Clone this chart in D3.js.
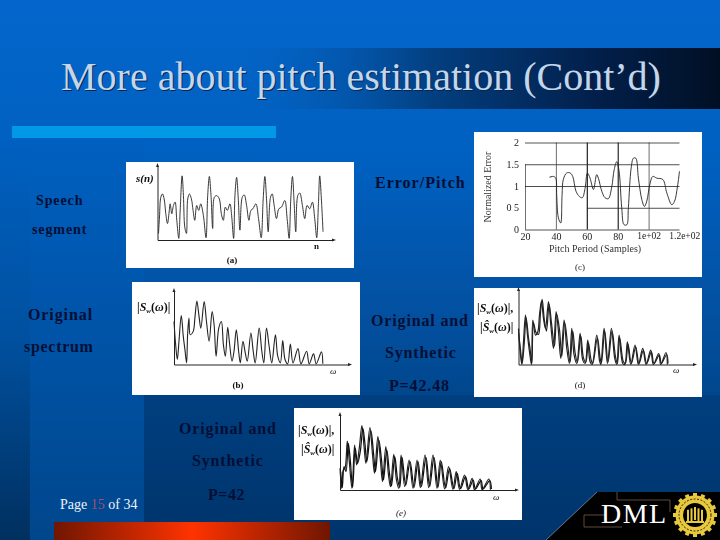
<!DOCTYPE html>
<html>
<head>
<meta charset="utf-8">
<script src="https://cdn.jsdelivr.net/npm/d3@7"></script>
<style>
  html, body { margin: 0; padding: 0; background: #003366; }
  svg { display: block; }
  text { font-family: "Liberation Serif", serif; }
</style>
</head>
<body>
<svg id="slide" width="720" height="540"></svg>
<script>
// (a) speech segment
const speechN = [3,6,10,15,20,25,30,35,38,43,48,53,58,64,68,74,78,82,87,91,96,102,107,112,118,124,130,138,146,151,156,161,166,171,178,186,192,198,204,210,218,223,229,233,238,243,248,255,261,268,275,281,287,296,304,312,318,323,328,333,340,345,351,358,365,373,383,390,396,401,406,411,416,422,428,436,443,450,458,466,473,479,484,488,493,498];
const speechV = [20,70,130,140,125,80,50,85,110,80,105,115,60,5,85,195,135,40,20,125,140,125,90,60,105,90,110,75,7,135,193,135,35,130,135,125,80,60,100,90,110,75,5,135,190,125,30,130,137,105,60,90,95,110,65,7,125,193,125,25,130,140,105,65,95,100,120,65,5,125,193,115,25,135,143,105,65,105,95,115,65,7,105,195,125,25];

// (b) original spectrum
const specN = [0,5,10,15,22,28,33,38,41,45,49,58,63,69,75,81,91,98,106,115,121,127,135,143,149,155,162,168,175,181,188,195,200,208,215,221,232,239,245,257,265,271,279,287,295,306,313,321,328,335,343,351,359,374,383,400,408,421,429,445,449];
const specV = [130,60,15,70,148,85,45,5,90,140,90,100,140,192,150,110,190,130,70,160,120,25,110,130,60,25,112,60,10,40,105,40,5,70,35,10,95,40,5,110,40,5,110,55,5,90,25,5,72,15,2,62,5,48,2,40,2,32,2,38,2];

// (c) normalized error against pitch period
const pitchPeriod = [35.8,38.4,39.9,40.5,41.6,43.1,44,44.8,47,49.2,50.9,53,55.2,57.1,58.9,60.4,62.1,64.3,66.4,67.5,69.7,71.8,74,76.2,77.7,79.4,80.9,82.6,84.1,85.9,86.9,88.7,90.2,91.7,93.4,95.6,97.3,98.8,101,102.7,105.3,109.2,111.8,115,116.8,118.7,120];
const pitchError = [1.2,1.22,1.18,0.8,0.27,0.15,0.8,1.15,1.3,1.3,1.22,0.88,0.76,0.73,0.95,1.3,1.18,0.92,1.26,1.18,0.88,0.73,0.71,0.99,1.37,1.56,1.34,0.5,0.11,0.11,0.5,1.41,1.64,1.64,1.18,0.69,0.53,0.65,1.07,1.22,1.18,1.15,0.84,0.57,0.65,0.99,1.34];
const pitchTicks = [20,40,60,80,100,120];
const pitchTickLabels = ['20','40','60','80','1e+02','1.2e+02'];
const errorTicks = [0,0.5,1,1.5,2];
const errorTickLabels = ['0','0 5','1','1.5','2'];

// (d) original and synthetic, P=42.48
const origDN = [0,5,10,15,21,27,33,39,43,51,58,63,69,75,81,90,97,105,113,120,127,137,145,153,160,167,175,185,193,200,208,215,221,235,243,247,257,267,279,289,295,302,313,319,327,337,350,360,373,383,397,405,421,427,443,447];
const origDV = [108,38,0,68,148,88,38,0,133,88,98,148,190,138,108,188,118,48,158,98,18,133,48,3,108,28,3,93,13,3,73,8,0,88,13,0,108,3,108,18,0,88,3,0,68,0,58,0,48,0,43,0,33,0,36,0];
const synthDN = [0,6,11,17,23,30,35,40,45,53,60,66,71,78,84,92,99,108,115,123,130,139,148,155,163,170,177,187,195,202,210,218,223,237,245,249,259,269,281,291,297,304,315,321,329,339,352,362,375,385,399,407,423,429,445,449];
const synthDV = [95,45,4,60,140,80,45,3,125,95,90,155,195,130,100,180,125,55,150,105,25,125,55,8,100,35,6,85,20,6,65,14,3,80,20,4,100,8,100,25,3,80,8,3,60,3,52,3,42,3,38,3,28,3,30,3];

// (e) original and synthetic, P=42
const origEN = [0,5,10,15,22,28,36,44,50,58,66,72,78,90,98,104,114,122,128,138,146,152,162,170,177,184,195,208,220,232,242,256,267,280,292,302,315,327,340,350,360,375,385,398,405,422,428,448,453];
const origEV = [65,5,60,65,147,85,5,135,75,125,193,135,80,187,105,50,160,85,25,130,45,10,107,30,5,105,10,90,5,90,7,105,7,105,5,90,3,70,2,55,2,45,1,35,1,33,1,33,1];
const synthEN = [2,7,12,18,25,31,38,46,53,61,69,75,81,93,101,107,117,125,131,141,149,155,165,173,180,187,198,211,223,235,245,259,270,283,295,305,318,330,343,353,363,378,388,401,408,425,431,451,456];
const synthEV = [55,8,70,55,140,90,8,125,80,115,185,140,85,178,110,55,150,90,30,120,50,12,100,35,8,98,14,85,8,85,10,98,10,98,8,85,6,65,4,50,4,40,3,30,3,28,3,28,3];

const svg = d3.select('#slide');
const defs = svg.append('defs');

function gradient(id, x2, y2, stops) {
    const g = defs.append('linearGradient').attr('id', id)
        .attr('x1', 0).attr('y1', 0).attr('x2', x2).attr('y2', y2);
    stops.forEach(s => g.append('stop').attr('offset', s[0]).attr('stop-color', s[1])
        .attr('stop-opacity', s[2] === undefined ? 1 : s[2]));
}
gradient('bgV', 0, 1, [[0, '#0466cc'], [0.3, '#0060c0'], [0.6, '#034f9e'], [0.74, '#00468c'], [1, '#00386f']]);
gradient('stripL', 0, 1, [[0, '#0060c0'], [0.5, '#00509f'], [1, '#00305f']]);
gradient('stripM', 0, 1, [[0, '#0060c0'], [1, '#00468c']]);
gradient('stripB', 0, 1, [[0, '#003f80'], [1, '#00346b']]);
gradient('band', 1, 0, [[0, '#0462c0', 0], [0.33, '#0462c0', 0.15], [0.6, '#033f80', 1], [0.82, '#02204c', 1], [1, '#010f24', 1]]);
gradient('redBar', 1, 0, [[0, '#701600'], [0.5, '#ff3300'], [1, '#701600']]);
defs.append('filter').attr('id', 'soft').append('feGaussianBlur').attr('stdDeviation', 0.35);

// background
svg.append('rect').attr('width', 720).attr('height', 540).attr('fill', 'url(#bgV)');
svg.append('rect').attr('y', 140).attr('width', 30).attr('height', 400).attr('fill', 'url(#stripL)');
svg.append('rect').attr('x', 30).attr('y', 140).attr('width', 114).attr('height', 400).attr('fill', 'url(#stripM)');
svg.append('rect').attr('x', 144).attr('y', 395).attr('width', 576).attr('height', 145).attr('fill', 'url(#stripB)');
svg.append('rect').attr('y', 48).attr('width', 720).attr('height', 61).attr('fill', 'url(#band)');
svg.append('rect').attr('x', 12).attr('y', 126).attr('width', 264).attr('height', 12).attr('fill', '#0099e6');
svg.append('rect').attr('x', 54).attr('y', 522).attr('width', 276).attr('height', 18).attr('fill', 'url(#redBar)');

// title
svg.append('text').attr('x', 62).attr('y', 91).attr('font-size', 40).attr('fill', '#04264e')
    .text('More about pitch estimation (Cont’d)');
svg.append('text').attr('x', 61).attr('y', 90).attr('font-size', 40).attr('fill', '#c4d6ea')
    .text('More about pitch estimation (Cont’d)');

function panel(x, y, w, h) {
    svg.append('rect').attr('x', x).attr('y', y).attr('width', w).attr('height', h).attr('fill', '#fff');
    return svg.append('g').attr('filter', 'url(#soft)');
}

function label(g, txt, x, y, size, opts) {
    opts = opts || {};
    return g.append('text').attr('x', x).attr('y', y).attr('font-size', size)
        .attr('fill', opts.fill || '#111')
        .attr('font-weight', opts.bold ? 'bold' : null)
        .attr('font-style', opts.italic ? 'italic' : null)
        .attr('text-anchor', opts.anchor || null)
        .attr('letter-spacing', opts.spacing || null)
        .text(txt);
}

function mag(g, head, x, y, comma) {
    const t = g.append('text').attr('x', x).attr('y', y).attr('font-size', 12)
        .attr('fill', '#111').attr('font-weight', 'bold');
    t.append('tspan').text('|');
    t.append('tspan').attr('font-style', 'italic').text(head);
    t.append('tspan').attr('font-size', 7).attr('dy', 2).attr('font-style', 'italic').text('w');
    t.append('tspan').attr('dy', -2).text('(');
    t.append('tspan').attr('font-style', 'italic').text('ω');
    t.append('tspan').text(comma ? ')|,' : ')|');
}

// waveform panels share this: two bare axes with arrow heads and one or more traces
function trace(g, box, xMax, yMax, series, width, curve) {
    const x = d3.scaleLinear().domain([0, xMax]).range([box.x0, box.x1]);
    const y = d3.scaleLinear().domain([0, yMax]).range([box.y0, box.y1]);
    const line = d3.line().x(d => x(d[0])).y(d => y(d[1])).curve(curve || d3.curveLinear);
    series.forEach(s => {
        g.append('path').datum(d3.zip(s[0], s[1]))
            .attr('fill', 'none').attr('stroke', s[2] || '#111')
            .attr('stroke-width', width).attr('stroke-linejoin', 'round')
            .attr('d', line);
    });
    const xAxis = g.append('g').attr('transform', 'translate(0,' + box.y0 + ')')
        .call(d3.axisBottom(x).tickValues([]).tickSizeOuter(0));
    const yAxis = g.append('g').attr('transform', 'translate(' + box.x0 + ',0)')
        .call(d3.axisLeft(y).tickValues([]).tickSizeOuter(0));
    xAxis.select('.domain').attr('stroke', '#222').attr('stroke-width', 1);
    yAxis.select('.domain').attr('stroke', '#222').attr('stroke-width', 1);
    g.append('path').attr('fill', '#222')
        .attr('d', d3.line()([[box.x1 + 3, box.y0], [box.x1 - 1, box.y0 - 1.5], [box.x1 - 1, box.y0 + 1.5]]));
    g.append('path').attr('fill', '#222')
        .attr('d', d3.line()([[box.x0, box.y1 - 3], [box.x0 - 1.5, box.y1 + 1], [box.x0 + 1.5, box.y1 + 1]]));
}

// (a)
const pa = panel(126, 162, 228, 106);
trace(pa, { x0: 157.5, x1: 333, y0: 240, y1: 166 }, 528, 225, [[speechN, speechV, '#222']], 0.9, d3.curveCatmullRom);
label(pa, 's(n)', 136, 182, 11, { bold: true, italic: true });
label(pa, 'n', 314, 249, 9, { bold: true });
label(pa, '(a)', 232, 263, 9, { anchor: 'middle', bold: true });

// (b)
const pb = panel(132, 282, 228, 113);
trace(pb, { x0: 174, x1: 349, y0: 364.5, y1: 291 }, 528, 222, [[specN, specV, '#222']], 1.1, d3.curveCatmullRom);
mag(pb, 'S', 137, 311);
label(pb, 'ω', 330, 374, 9, { italic: true });
label(pb, '(b)', 238, 388, 9, { anchor: 'middle', bold: true });

// (c) gets real axes and a grid
const pc = panel(474, 132, 228, 145);
const xc = d3.scaleLinear().domain([20, 120]).range([525, 679.5]);
const yc = d3.scaleLinear().domain([0, 2]).range([229.5, 142.5]);
const gridX = pc.append('g').attr('transform', 'translate(0,229.5)')
    .call(d3.axisBottom(xc).tickValues(pitchTicks).tickSize(-87).tickFormat((d, i) => pitchTickLabels[i]));
const gridY = pc.append('g').attr('transform', 'translate(525,0)')
    .call(d3.axisLeft(yc).tickValues(errorTicks).tickSize(-154.5).tickPadding(6).tickFormat((d, i) => errorTickLabels[i]));
gridX.select('.domain').remove();
gridY.select('.domain').remove();
gridX.selectAll('line').attr('stroke', (d) => (d === 60 || d === 80) ? '#111' : '#333')
    .attr('stroke-width', (d) => (d === 60 || d === 80) ? 1.1 : 0.7);
gridY.selectAll('line').attr('stroke', '#222').attr('stroke-width', 0.8);
gridX.selectAll('line').filter(d => d === 20).attr('y2', yc(1.5) - 229.5);
gridX.selectAll('line').filter(d => d === 120).remove();
gridY.selectAll('line').filter(d => d === 0.5).attr('x1', xc(60) - 525);
gridX.selectAll('text').attr('font-size', 10).attr('font-family', '"Liberation Serif", serif').attr('fill', '#222');
gridY.selectAll('text').attr('font-size', 10).attr('font-family', '"Liberation Serif", serif').attr('fill', '#222');
// the 1.2e+02 label runs up against 1e+02, as it does on the scan
gridX.selectAll('text').filter(d => d === 100).attr('font-size', 9.5);
gridX.selectAll('text').filter(d => d === 120).attr('font-size', 9.5).attr('dx', '0.5em');
pc.append('path').datum(d3.zip(pitchPeriod, pitchError))
    .attr('fill', 'none').attr('stroke', '#222').attr('stroke-width', 0.9)
    .attr('d', d3.line().x(d => xc(d[0])).y(d => yc(d[1])).curve(d3.curveCatmullRom));
pc.append('text').attr('transform', 'translate(491,187) rotate(-90)').attr('text-anchor', 'middle')
    .attr('font-size', 10).attr('fill', '#333').text('Normalized Error');
label(pc, 'Pitch Period (Samples)', 595, 252, 10, { anchor: 'middle', fill: '#333' });
label(pc, '(c)', 580, 270, 9, { anchor: 'middle', fill: '#222' });

// (d)
const pd = panel(474, 288, 228, 109);
trace(pd, { x0: 518.5, x1: 694, y0: 364.5, y1: 290 }, 527, 223, [[origDN, origDV, '#222'], [synthDN, synthDV, '#222']], 1.2, d3.curveCatmullRom);
mag(pd, 'S', 477, 312, true);
mag(pd, 'Ŝ', 480, 331);
label(pd, 'ω', 673, 373, 9, { italic: true });
label(pd, '(d)', 580, 388, 9, { anchor: 'middle' });

// (e)
const pe = panel(294, 408, 228, 112);
trace(pe, { x0: 340, x1: 516, y0: 490, y1: 415 }, 530, 225, [[origEN, origEV, '#222'], [synthEN, synthEV, '#111']], 1.2, d3.curveCatmullRom);
mag(pe, 'S', 298, 434, true);
mag(pe, 'Ŝ', 301, 453);
label(pe, 'ω', 493, 500, 9, { italic: true });
label(pe, '(e)', 401, 516, 9, { anchor: 'middle', italic: true });

// slide captions
const cap = svg.append('g');
const ink = '#040f35';
label(cap, 'Speech', 36, 205, 14, { fill: ink, bold: true, spacing: 0.9 });
label(cap, 'segment', 32, 234, 14, { fill: ink, bold: true, spacing: 0.9 });
label(cap, 'Error/Pitch', 375, 188, 16, { fill: ink, bold: true, spacing: 1 });
label(cap, 'Original', 28, 320, 16, { fill: ink, bold: true, spacing: 0.9 });
label(cap, 'spectrum', 24, 352, 16, { fill: ink, bold: true, spacing: 0.7 });
label(cap, 'Original and', 371, 326, 16, { fill: ink, bold: true, spacing: 0.85 });
label(cap, 'Synthetic', 385, 358, 16, { fill: ink, bold: true, spacing: 0.85 });
label(cap, 'P=42.48', 389, 391, 16, { fill: ink, bold: true, spacing: 0.85 });
label(cap, 'Original and', 179, 434, 16, { fill: ink, bold: true, spacing: 0.85 });
label(cap, 'Synthetic', 192, 466, 16, { fill: ink, bold: true, spacing: 0.85 });
label(cap, 'P=42', 208, 500, 16, { fill: ink, bold: true, spacing: 0.5 });

const page = svg.append('text').attr('x', 60).attr('y', 509).attr('font-size', 14).attr('fill', '#eef4fb');
page.append('tspan').text('Page ');
page.append('tspan').attr('fill', '#a0506e').text('15');
page.append('tspan').text(' of 34');

// DML corner
svg.append('path').attr('fill', '#000')
    .attr('d', d3.line()([[546, 540], [597, 492], [720, 492], [720, 540]]));
svg.append('path').attr('fill', 'none').attr('stroke', '#9db4cc').attr('stroke-width', 0.6)
    .attr('d', d3.line()([[546, 540], [597, 492]]));
const trim = svg.append('g').attr('fill', 'none').attr('stroke', '#8a6a55').attr('stroke-width', 0.7);
trim.append('path').attr('d', d3.line()([[617, 492], [617, 500], [670, 500], [670, 512]]));
trim.append('path').attr('d', d3.line()([[605, 515], [584, 515], [584, 527], [622, 527]]));
label(svg, 'DML', 601, 523, 28, { fill: '#fff', spacing: 1.5 });

// university seal
const seal = svg.append('g').attr('transform', 'translate(695,515)');
const teeth = d3.range(16).map(i => i * 22.5);
seal.selectAll('rect.tooth').data(teeth).enter().append('rect')
    .attr('x', -2).attr('y', -22).attr('width', 4).attr('height', 5).attr('fill', '#e8c83c')
    .attr('transform', d => 'rotate(' + d + ')');
seal.append('circle').attr('r', 19.5).attr('fill', '#e8c83c');
seal.append('circle').attr('r', 12).attr('fill', '#000');
seal.append('circle').attr('r', 16).attr('fill', 'none').attr('stroke', '#000').attr('stroke-width', 0.8).attr('stroke-dasharray', '2 1.5');
seal.selectAll('rect.bar').data([-7, -3.5, 0, 3.5, 7]).enter().append('rect')
    .attr('x', d => d - 1).attr('y', d => -8 + Math.abs(d) * 0.4).attr('width', 2).attr('height', 13).attr('fill', '#e8c83c');
seal.append('rect').attr('x', -9).attr('y', 6).attr('width', 18).attr('height', 2).attr('fill', '#e8c83c');
</script>
</body>
</html>
